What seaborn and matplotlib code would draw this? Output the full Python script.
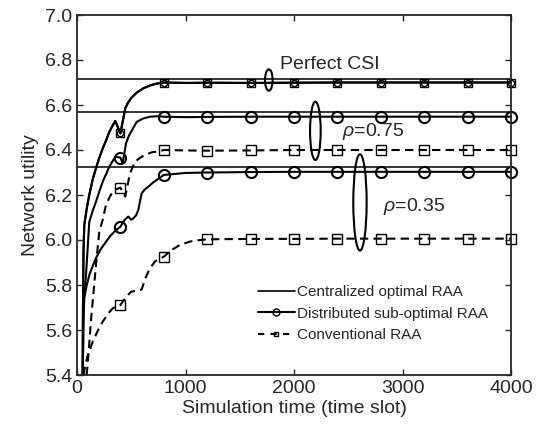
import matplotlib
matplotlib.use("Agg")
import matplotlib.pyplot as plt
from matplotlib.lines import Line2D
from matplotlib.patches import Ellipse
import seaborn as sns
import pandas as pd

# time axis / tail shared by all curves (steady state after ~800 slots)
tail_t = [1000, 1200, 1600, 2000, 2400, 2800, 3200, 3600, 4000]

# Perfect CSI: distributed and conventional curves coincide
perf_t = [52, 55, 60, 67, 90, 113, 145, 175, 205, 237, 270, 298, 330, 353, 400,
          421, 445, 470, 498, 550, 611, 680, 734, 800] + tail_t
perf_v = [5.40, 5.70, 5.95, 6.067, 6.14, 6.20, 6.27, 6.319, 6.365, 6.407, 6.445,
          6.481, 6.51, 6.529, 6.474, 6.526, 6.585, 6.61, 6.63, 6.655, 6.674,
          6.688, 6.695, 6.70] + [6.698, 6.699, 6.698, 6.699, 6.70, 6.70, 6.70, 6.70, 6.70]

# rho = 0.75
d75_t = [54, 57, 65, 83, 113, 145, 175, 205, 237, 270, 298, 330, 353, 400, 421,
         452, 475, 498, 550, 610, 673, 740, 800] + tail_t
d75_v = [5.40, 5.60, 5.75, 5.844, 6.08, 6.13, 6.17, 6.215, 6.259, 6.295, 6.326,
         6.352, 6.37, 6.366, 6.341, 6.43, 6.46, 6.481, 6.525, 6.54, 6.548, 6.55,
         6.548] + [6.546, 6.547, 6.548, 6.548, 6.548, 6.548, 6.548, 6.548, 6.548]
c75_t = [88, 98, 130, 175, 206, 237, 267, 300, 329, 360, 400, 445, 488, 535,
         580, 627, 690, 750, 800] + tail_t
c75_v = [5.40, 5.444, 5.65, 5.889, 6.04, 6.09, 6.156, 6.19, 6.215, 6.225,
         6.233, 6.193, 6.296, 6.348, 6.365, 6.378, 6.39, 6.393, 6.40] + \
        [6.398, 6.397, 6.398, 6.40, 6.40, 6.40, 6.40, 6.40, 6.40]

# rho = 0.35
d35_t = [53, 56, 60, 67, 90, 113, 145, 175, 220, 267, 310, 360, 400, 440, 473,
         500, 519, 545, 565, 580, 596, 625, 657, 700, 734, 800] + tail_t
d35_v = [5.40, 5.50, 5.65, 5.742, 5.80, 5.844, 5.885, 5.92, 5.96, 5.992, 6.02,
         6.044, 6.059, 6.09, 6.104, 6.09, 6.096, 6.11, 6.133, 6.17, 6.207, 6.225,
         6.237, 6.255, 6.267, 6.289] + [6.298, 6.30, 6.302, 6.303, 6.303, 6.303, 6.303, 6.303, 6.303]
c35_t = [63, 67, 100, 145, 190, 237, 290, 329, 360, 400, 450, 498, 550, 596, 630,
         673, 720, 800, 870, 949, 1040, 1134, 1200, 1600, 2000, 2400, 2800, 3200, 3600, 4000]
c35_v = [5.40, 5.42, 5.49, 5.548, 5.595, 5.637, 5.675, 5.696, 5.705, 5.711, 5.745,
         5.77, 5.775, 5.78, 5.83, 5.875, 5.905, 5.926, 5.955, 5.978, 5.993, 6.0,
         6.003, 6.005, 6.005, 6.006, 6.006, 6.006, 6.006, 6.006]

# centralized optimal RAA (constant)
cen_t = [0, 4000]
cen_perf = 6.716
cen_75 = 6.568
cen_35 = 6.325

# annotations: (x, y, width, height)
ell_perf = (1768, 6.711, 70, 0.095)
ell_75 = (2197, 6.485, 98, 0.259)
ell_35 = (2608, 6.167, 123, 0.428)
txt_perf = (1871, 6.778, "Perfect CSI")
txt_75 = (2442, 6.484, r"$\rho$=0.75")
txt_35 = (2820, 6.151, r"$\rho$=0.35")

x_ticks = [0, 1000, 2000, 3000, 4000]
y_ticks = [5.4, 5.6, 5.8, 6.0, 6.2, 6.4, 6.6, 6.8, 7.0]

sns.set_style("ticks")
plt.rcParams["font.family"] = ["Liberation Sans", "DejaVu Sans"]
plt.rcParams["mathtext.fontset"] = "custom"
plt.rcParams["mathtext.it"] = "Liberation Sans:italic"
plt.rcParams["mathtext.rm"] = "Liberation Sans"

fig = plt.figure(figsize=(5.4, 4.3), dpi=100)
ax = fig.add_axes([77 / 540, 1 - 375 / 430, 434 / 540, 360 / 430])


def marks(ts):
    return [i for i, t in enumerate(ts) if t % 400 == 0]


def curve(ts, vs, ls="-", marker=None, ms=6, mew=1.2):
    df = pd.DataFrame({"t": ts, "v": vs})
    kw = dict(color="black", lw=1.5, linestyle=ls, sort=False, estimator=None, ax=ax,
              clip_on=False)
    if marker:
        kw.update(marker=marker, markevery=marks(ts), markersize=ms,
                  markerfacecolor="none", markeredgecolor="black", markeredgewidth=mew)
    sns.lineplot(data=df, x="t", y="v", **kw)


dash = (0, (4, 2.5))

for lvl in [cen_perf, cen_75, cen_35]:
    sns.lineplot(x=cen_t, y=[lvl, lvl], color="black", lw=1.1, ax=ax)

curve(perf_t, perf_v, "-", "s", ms=6, mew=1.0)
curve(perf_t, perf_v, "-", "o", ms=4.5, mew=1.0)
curve(d75_t, d75_v, "-", "o", ms=8, mew=1.5)
curve(c75_t, c75_v, dash, "s", ms=6.5, mew=1.0)
curve(d35_t, d35_v, "-", "o", ms=8, mew=1.5)
curve(c35_t, c35_v, dash, "s", ms=6.5, mew=1.0)

for ex, ey, ew, eh in [ell_perf, ell_75, ell_35]:
    ax.add_patch(Ellipse((ex, ey), ew, eh, fill=False, color="black", lw=1.5))
for tx, ty, s in [txt_perf, txt_75, txt_35]:
    ax.text(tx, ty, s, fontsize=14, ha="left", va="center")

ax.set_xlim(0, 4000)
ax.set_ylim(5.4, 7.0)
ax.set_xticks(x_ticks)
ax.set_yticks(y_ticks)
ax.set_yticklabels([f"{v:.1f}" for v in y_ticks])
ax.tick_params(direction="in", top=True, right=True, labelsize=14, length=4, width=1)
for sp in ax.spines.values():
    sp.set_linewidth(1.3)
    sp.set_zorder(5)
ax.set_xlabel("Simulation time (time slot)", fontsize=14, labelpad=2)
ax.set_ylabel("Network utility", fontsize=14, labelpad=4)

handles = [
    Line2D([], [], color="black", lw=1.2),
    Line2D([], [], color="black", lw=1.5, marker="o", ms=5, mfc="none", mew=1.0),
    Line2D([], [], color="black", lw=1.5, linestyle=(0, (3, 3)), marker="s", ms=3.5, mfc="none", mew=1.0),
]
labels = ["Centralized optimal RAA", "Distributed sub-optimal RAA", "Conventional RAA"]
ax.legend(handles, labels, loc="upper left", bbox_to_anchor=((258 - 77) / 434, (375 - 285) / 360),
          frameon=False, fontsize=11, handlelength=2.4, handletextpad=0.15,
          borderpad=0, borderaxespad=0, labelspacing=0.5)

fig.savefig("out.png", dpi=100)
